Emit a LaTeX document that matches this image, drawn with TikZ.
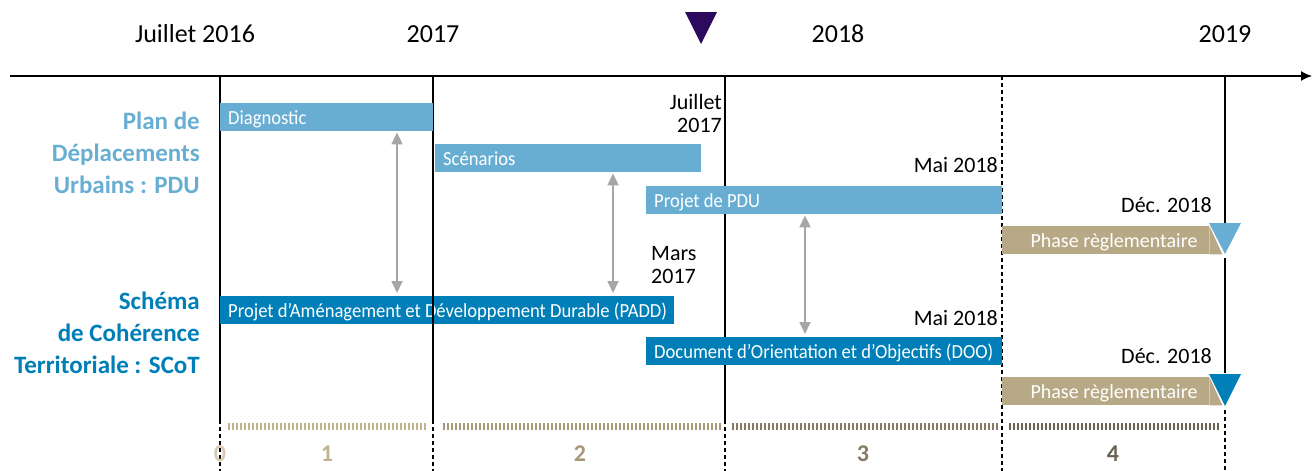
\documentclass[tikz,border=0pt]{standalone}
\usepackage{fontspec}
\setmainfont{Carlito}
\newfontfamily\barfamily{Carlito}[FakeStretch=0.93]
\usetikzlibrary{arrows.meta}

\definecolor{pdublue}{HTML}{68AED3}
\definecolor{scotblue}{HTML}{007EB7}
\definecolor{phasetan}{HTML}{B8A986}
\definecolor{nowpurple}{HTML}{2D0A5E}
\definecolor{linkgray}{HTML}{A6A6A6}
\definecolor{stepA}{HTML}{D7CAB0}
\definecolor{stepB}{HTML}{C2B38F}
\definecolor{stepC}{HTML}{A69878}
\definecolor{stepD}{HTML}{857A63}
\definecolor{stepE}{HTML}{6C6352}

\newcommand\bartext{\barfamily\fontsize{20}{24}\selectfont}
\newcommand\phasetext{\fontsize{20}{24}\selectfont}
\newcommand\datetext{\fontsize{22}{23}\selectfont}
\newcommand\yeartext{\fontsize{26}{30}\selectfont}
\newcommand\headtext{\fontsize{25}{32}\selectfont\bfseries}
\newcommand\numtext{\fontsize{24}{26}\selectfont\bfseries}

\begin{document}
\begin{tikzpicture}
[x=1pt,y=-1pt,>=Latex,
 every node/.style={inner sep=0pt},
 bar/.style={anchor=north west,minimum height=28pt},
 barname/.style={anchor=west,xshift=8pt,text=white,text height=16pt,text depth=2pt,font=\bartext},
 pdubar/.style={bar,fill=pdublue},
 scotbar/.style={bar,fill=scotblue},
 phasebar/.style={bar,fill=phasetan},
 phasename/.style={text=white,text height=16pt,text depth=2pt,font=\phasetext},
 date/.style={anchor=base east,align=right,font=\datetext},
 year/.style={anchor=base,font=\yeartext},
 link/.style={<->,linkgray,line width=1.8pt,shorten <=1pt,shorten >=3pt,
   >={Triangle[length=12pt,width=11pt]}},
 grid/.style={line width=1.1pt},
 gridend/.style={grid,dash pattern=on 4pt off 3pt},
 hatch/.style={line width=1.2pt}]

% the frame
\useasboundingbox (0,0) rectangle (1312,471);

% the years
\node[year] (y16) at (195,42) {Juillet 2016};
\node[year] (y17) at (433,42) {2017};
\node[year] (y18) at (838,42) {2018};
\node[year] (y19) at (1225,42) {2019};
\fill[nowpurple] (685,12) -- (717,12) -- (701,44) -- cycle;

% the grid lines
\draw[grid] (220,76) -- (220,420);
\draw[grid] (433,76) -- (433,420);
\draw[grid] (725,76) -- (725,420);
\draw[gridend] (220,420) -- (220,471);
\draw[gridend] (433,420) -- (433,471);
\draw[gridend] (725,420) -- (725,471);
\draw[gridend] (1002,76) -- (1002,471);
\draw[grid] (1225,76) -- (1225,223);
\draw[grid] (1225,258) -- (1225,373);
\draw[gridend] (1225,410) -- (1225,471);

% the time axis
\draw[line width=1.4pt,-{Latex[length=11pt,width=10pt]}] (10,76) -- (1312,76);

% the headings (base = last line)
\node[anchor=base east,align=right,font=\headtext,text=pdublue] (pdu) at (200,193)
  {Plan de\\Déplacements\\Urbains : PDU};
\node[anchor=base east,align=right,font=\headtext,text=scotblue] (scot) at (200,373)
  {Schéma\\de Cohérence\\Territoriale : SCoT};

% the PDU bars
\node[pdubar,minimum width=213pt,label={[barname]west:Diagnostic}] (diag) at (220,103) {};
\node[pdubar,minimum width=266pt,label={[barname]west:Scénarios}] (scen) at (435,144) {};
\node[pdubar,minimum width=356pt,label={[barname]west:Projet de PDU}] (projet) at (646,186) {};

% the SCoT bars
\node[scotbar,minimum width=454pt,
  label={[barname]west:Projet d’Aménagement et Développement Durable (PADD)}] (padd) at (220,296) {};
\draw[grid] (433,296) -- (433,324);
\node[scotbar,minimum width=356pt,
  label={[barname]west:Document d’Orientation et d’Objectifs (DOO)}] (doo) at (646,337) {};

% the rule phases
\node[phasebar,minimum width=207pt] (phaseA) at (1002,226) {};
\fill[phasetan] (phaseA.north east) -- (phaseA.south east) -- ++(13,0) -- cycle;
\node[phasename] (phaseAname) at (1114,240) {Phase règlementaire};
\fill[pdublue] (1209,223) -- (1241,223) -- (1225,254) -- cycle;
\node[phasebar,minimum width=207pt] (phaseB) at (1002,377) {};
\fill[phasetan] (phaseB.north east) -- (phaseB.south east) -- ++(13,0) -- cycle;
\node[phasename] (phaseBname) at (1114,391) {Phase règlementaire};
\fill[scotblue] (1209,374) -- (1241,374) -- (1225,406) -- cycle;

% the dates
\node[date] (jul17) at (722,132) {Juillet\\2017};
\node[date] (mai18a) at (998,172) {Mai 2018};
\node[date] (dec18a) at (1212,212) {Déc. 2018};
\node[date,anchor=base west,align=left] (mar17) at (651,283) {Mars\\2017};
\node[date] (mai18b) at (998,325) {Mai 2018};
\node[date] (dec18b) at (1212,363) {Déc. 2018};

% the links between the plans
\coordinate (l1) at (397,0);
\coordinate (l2) at (613,0);
\coordinate (l3) at (805,0);
\draw[link] (l1 |- diag.south) -- (l1 |- padd.north);
\draw[link] (l2 |- scen.south) -- (l2 |- padd.north);
\draw[link] (l3 |- projet.south) -- (l3 |- doo.north);

% the steps
\foreach \x in {229,233,...,427} \draw[hatch,stepB] (\x,423) -- (\x,430);
\foreach \x in {444,448,...,720} \draw[hatch,stepC] (\x,423) -- (\x,430);
\foreach \x in {733,737,...,997} \draw[hatch,stepD] (\x,423) -- (\x,430);
\foreach \x in {1010,1014,...,1218} \draw[hatch,stepE] (\x,423) -- (\x,430);
\node[font=\numtext,text=stepA,anchor=base] (n0) at (220,461) {0};
\node[font=\numtext,text=stepB,anchor=base] (n1) at (327,461) {1};
\node[font=\numtext,text=stepC,anchor=base] (n2) at (580,461) {2};
\node[font=\numtext,text=stepD,anchor=base] (n3) at (863,461) {3};
\node[font=\numtext,text=stepE,anchor=base] (n4) at (1113,461) {4};
\end{tikzpicture}
\end{document}
